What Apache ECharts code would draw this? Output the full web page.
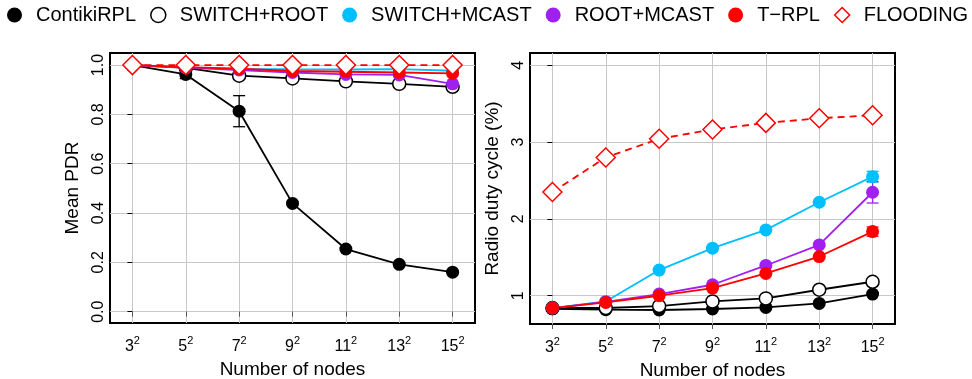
<!DOCTYPE html>
<html>
<head>
<meta charset="utf-8">
<script src="https://cdn.jsdelivr.net/npm/echarts@6/dist/echarts.min.js"></script>
<style>
  html, body { margin: 0; padding: 0; background: #fff; }
  #chart { width: 972px; height: 379px; }
</style>
</head>
<body>
<div id="chart"></div>
<script>
// x categories (number of nodes = base^2)
const categoryBases = ['3', '5', '7', '9', '11', '13', '15']
const seriesNames = ['ContikiRPL', 'SWITCH+ROOT', 'SWITCH+MCAST', 'ROOT+MCAST', 'T\u2212RPL', 'FLOODING']

// left panel: mean PDR
const pdrContiki = [1.0, 0.962, 0.813, 0.439, 0.254, 0.192, 0.160]
const pdrSwitchRoot = [1.0, 0.989, 0.957, 0.946, 0.934, 0.924, 0.912]
const pdrSwitchMcast = [1.0, 0.990, 0.985, 0.983, 0.982, 0.984, 0.977]
const pdrRootMcast = [1.0, 0.990, 0.980, 0.970, 0.962, 0.960, 0.924]
const pdrTrpl = [1.0, 0.992, 0.986, 0.976, 0.973, 0.970, 0.966]
const pdrFlooding = [1.0, 1.0, 1.0, 1.0, 1.0, 1.0, 1.0]
const pdrContikiErr = [0, 0.017, 0.063, 0.006, 0.005, 0.004, 0.004]

// right panel: radio duty cycle (%)
const dutyContiki = [0.83, 0.818, 0.814, 0.827, 0.848, 0.90, 1.022]
const dutySwitchRoot = [0.84, 0.84, 0.866, 0.926, 0.965, 1.078, 1.182]
const dutySwitchMcast = [0.84, 0.926, 1.334, 1.619, 1.857, 2.217, 2.55]
const dutyRootMcast = [0.84, 0.92, 1.022, 1.143, 1.394, 1.662, 2.347]
const dutyTrpl = [0.84, 0.913, 1.0, 1.10, 1.29, 1.51, 1.835]
const dutyFlooding = [2.351, 2.80, 3.043, 3.164, 3.25, 3.31, 3.35]
const dutySwitchMcastErr = [0, 0, 0, 0, 0, 0.02, 0.07]
const dutyRootMcastErr = [0, 0, 0, 0, 0, 0.02, 0.14]
const dutyTrplErr = [0, 0, 0, 0, 0, 0.015, 0.06]

// y tick labels
const pdrTicks = [0, 0.2, 0.4, 0.6, 0.8, 1.0]
const dutyTicks = [1, 2, 3, 4]

const FONT = 'Liberation Sans, Arial, Helvetica, sans-serif'
const styles = [
  { color: '#000', fill: '#000', symbol: 'circle', size: 13, dash: 'solid' },
  { color: '#000', fill: '#fff', symbol: 'circle', size: 13, dash: 'solid' },
  { color: '#00bfff', fill: '#00bfff', symbol: 'circle', size: 13, dash: 'solid' },
  { color: '#a020f0', fill: '#a020f0', symbol: 'circle', size: 13, dash: 'solid' },
  { color: '#ff0000', fill: '#ff0000', symbol: 'circle', size: 13, dash: 'solid' },
  { color: '#ff0000', fill: '#fff', symbol: 'diamond', size: 19, dash: [7, 5] }
]

const idx = categoryBases.map((c, i) => i)
const toPairs = arr => arr.map((v, i) => [i, v])

function lineSeries(k, values, axisIdx) {
  const s = styles[k]
  return {
    name: seriesNames[k],
    type: 'line',
    xAxisIndex: axisIdx,
    yAxisIndex: axisIdx,
    data: toPairs(values),
    symbol: s.symbol,
    symbolSize: s.size,
    showSymbol: true,
    animation: false,
    lineStyle: { color: s.color, width: 1.8, type: s.dash },
    itemStyle: { color: s.fill, borderColor: s.color, borderWidth: s.fill === '#fff' ? 1.5 : 0 },
    emphasis: { disabled: true }
  }
}

function errSeries(values, errs, color, axisIdx) {
  const data = []
  errs.forEach((e, i) => { if (e > 0) data.push([i, values[i] - e, values[i] + e]) })
  return {
    type: 'custom',
    xAxisIndex: axisIdx,
    yAxisIndex: axisIdx,
    data: data,
    animation: false,
    z: 3,
    renderItem: function (params, api) {
      const top = api.coord([api.value(0), api.value(2)])
      const bot = api.coord([api.value(0), api.value(1)])
      const hw = 6
      const st = { stroke: color, lineWidth: 1.3 }
      return {
        type: 'group',
        children: [
          { type: 'line', shape: { x1: top[0], y1: top[1], x2: bot[0], y2: bot[1] }, style: st },
          { type: 'line', shape: { x1: top[0] - hw, y1: top[1], x2: top[0] + hw, y2: top[1] }, style: st },
          { type: 'line', shape: { x1: bot[0] - hw, y1: bot[1], x2: bot[0] + hw, y2: bot[1] }, style: st }
        ]
      }
    }
  }
}

function xAxis(gridIdx) {
  return {
    type: 'value',
    gridIndex: gridIdx,
    min: -0.42,
    max: 6.42,
    name: 'Number of nodes',
    nameLocation: 'middle',
    nameGap: 34,
    nameTextStyle: { fontSize: 19, color: '#000', fontFamily: FONT },
    axisLine: { show: false },
    axisTick: { show: true, customValues: idx, length: 5, inside: false, lineStyle: { color: '#555' } },
    axisLabel: {
      customValues: idx,
      formatter: v => '{b|' + categoryBases[Math.round(v)] + '}{s|2}',
      color: '#000',
      fontFamily: FONT,
      margin: 12,
      rich: {
        b: { fontSize: 16, fontFamily: FONT, color: '#000', lineHeight: 20, verticalAlign: 'bottom' },
        s: { fontSize: 11, fontFamily: FONT, color: '#000', lineHeight: 11, verticalAlign: 'top' }
      }
    },
    splitLine: { show: true, lineStyle: { color: '#c8c8c8', width: 1 } }
  }
}

function yAxis(gridIdx, name, min, max, ticks, fmt) {
  return {
    type: 'value',
    gridIndex: gridIdx,
    min: min,
    max: max,
    name: name,
    nameLocation: 'middle',
    nameGap: 28,
    nameTextStyle: { fontSize: 19, color: '#000', fontFamily: FONT },
    axisLine: { show: false },
    axisTick: { show: true, customValues: ticks, length: 5, lineStyle: { color: '#000' } },
    axisLabel: {
      customValues: ticks,
      formatter: fmt,
      rotate: 90,
      fontSize: 16,
      color: '#000',
      fontFamily: FONT,
      margin: 3
    },
    splitLine: { show: true, lineStyle: { color: '#c8c8c8', width: 1 } }
  }
}

const chart = echarts.init(document.getElementById('chart'), null, { renderer: 'canvas' })

const gridBase = { show: true, borderColor: '#000', borderWidth: 2, backgroundColor: 'transparent', outerBoundsMode: 'none', containLabel: false }

chart.setOption({
  animation: false,
  textStyle: { fontFamily: FONT },
  legend: {
    left: 7,
    top: 5,
    width: 1000,
    padding: 0,
    itemWidth: 15,
    itemHeight: 15,
    itemGap: 14,
    icon: 'circle',
    textStyle: { fontSize: 20, color: '#000', fontFamily: FONT, padding: [0, 0, 0, 9] },
    data: seriesNames.map((n, k) => ({
      name: n,
      icon: styles[k].symbol,
      itemStyle: { color: styles[k].fill, borderColor: styles[k].color, borderWidth: styles[k].fill === '#fff' ? 1.5 : 0 }
    }))
  },
  grid: [
    Object.assign({ left: 110, top: 53, width: 365, height: 270 }, gridBase),
    Object.assign({ left: 530, top: 53, width: 365, height: 271 }, gridBase)
  ],
  xAxis: [xAxis(0), xAxis(1)],
  yAxis: [
    yAxis(0, 'Mean PDR', -0.046, 1.049, pdrTicks, v => v.toFixed(1)),
    yAxis(1, 'Radio duty cycle (%)', 0.632, 4.16, dutyTicks, v => String(Math.round(v)))
  ],
  series: [
    lineSeries(0, pdrContiki, 0),
    lineSeries(1, pdrSwitchRoot, 0),
    lineSeries(2, pdrSwitchMcast, 0),
    lineSeries(3, pdrRootMcast, 0),
    lineSeries(4, pdrTrpl, 0),
    lineSeries(5, pdrFlooding, 0),
    errSeries(pdrContiki, pdrContikiErr, '#000', 0),
    lineSeries(0, dutyContiki, 1),
    lineSeries(1, dutySwitchRoot, 1),
    lineSeries(2, dutySwitchMcast, 1),
    lineSeries(3, dutyRootMcast, 1),
    lineSeries(4, dutyTrpl, 1),
    lineSeries(5, dutyFlooding, 1),
    errSeries(dutySwitchMcast, dutySwitchMcastErr, '#00bfff', 1),
    errSeries(dutyRootMcast, dutyRootMcastErr, '#a020f0', 1),
    errSeries(dutyTrpl, dutyTrplErr, '#ff0000', 1)
  ]
})
</script>
</body>
</html>
